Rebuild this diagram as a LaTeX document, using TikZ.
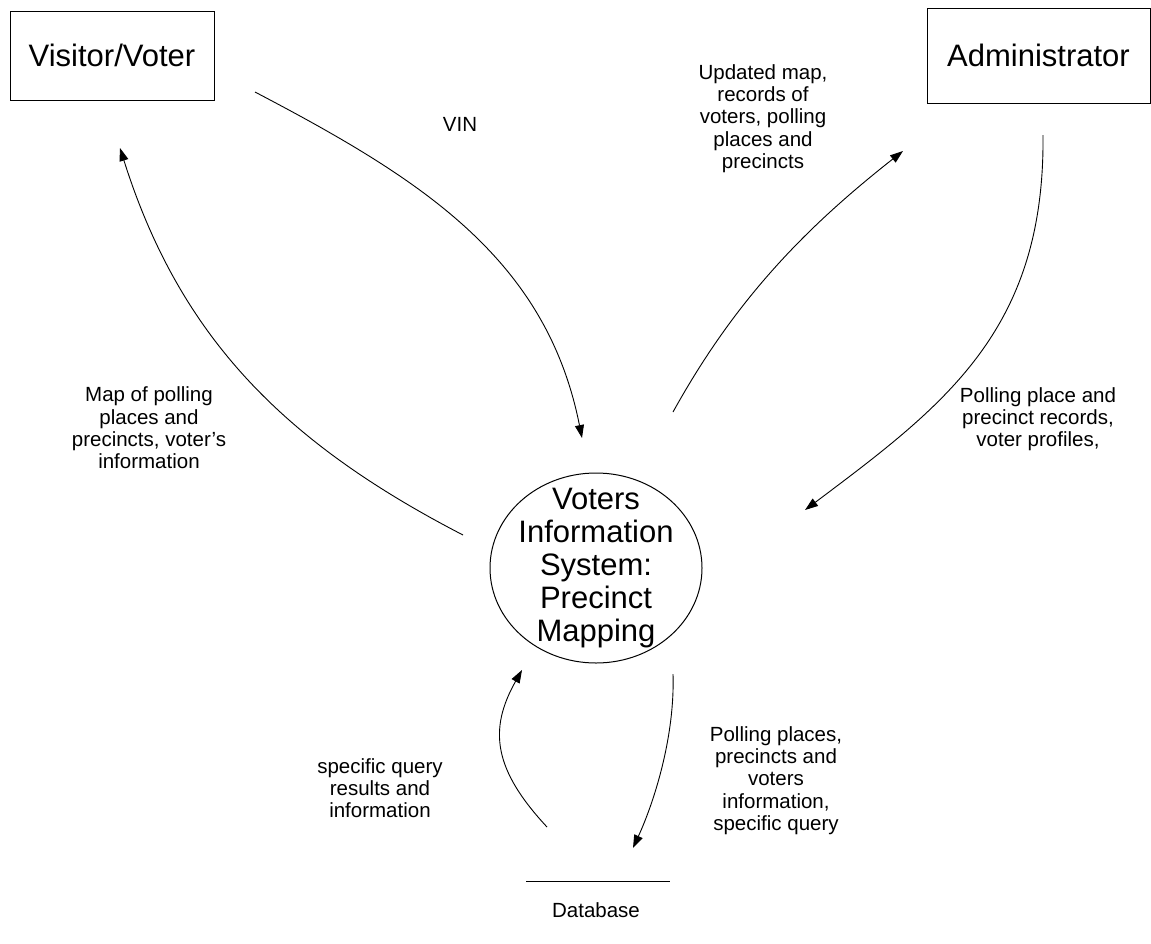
\documentclass[tikz,border=0pt]{standalone}
\usepackage{fontspec}
\setmainfont{Liberation Sans}
\usetikzlibrary{arrows.meta,shapes.geometric}

\tikzset{
  entity/.style={draw, line width=1pt, inner sep=0pt, font=\fontsize{31}{33}\selectfont},
  flow/.style={-{Triangle[length=13pt,width=9pt]}, line width=0.9pt},
  flowlabel/.style={align=center, inner sep=0pt, font=\fontsize{20.5}{22.3}\selectfont},
}

\begin{document}
\begin{tikzpicture}[x=1pt, y=-1pt]
    \useasboundingbox (0,0) rectangle (1151,943);

    % External entities
    \node[entity, minimum width=204, minimum height=89] (visitor) at (112,55.5) {Visitor/Voter};
    \node[entity, minimum width=223, minimum height=95] (admin) at (1038.5,55.5) {Administrator};

    % Process
    \node[draw, ellipse, line width=1pt, minimum width=212, minimum height=190, inner sep=0pt] (proc) at (596,568) {};
    \node[align=center, inner sep=0pt, font=\fontsize{31}{33}\selectfont] (proctext) at (proc.center) {Voters\\Information\\System:\\Precinct\\Mapping};

    % Data store
    \coordinate (dbl) at (526,881);
    \coordinate (dbr) at (670,881);
    \draw[line width=1pt] (dbl) -- (dbr);
    \node[flowlabel] (db) at (596,910) {Database};

    % Flow end points
    \coordinate (vinS) at (255,92);
    \coordinate (vinE) at (582,438);
    \coordinate (mapS) at (463,535);
    \coordinate (mapE) at (120,148);
    \coordinate (updS) at (673,412);
    \coordinate (updE) at (903,151);
    \coordinate (recS) at (1043,135);
    \coordinate (recE) at (805,510);
    \coordinate (resS) at (547,827);
    \coordinate (resE) at (522,670);
    \coordinate (qryS) at (673,674);
    \coordinate (qryE) at (633,848);

    % Visitor flows
    \draw[flow] (vinS) .. controls (419,178) and (546,257) .. (vinE);
    \node[flowlabel] (vin) at (460,124.5) {VIN};
    \draw[flow] (mapS) .. controls (285,443) and (180,338) .. (mapE);
    \node[flowlabel] (maplbl) at (149,428) {Map of polling\\places and\\precincts, voter's\\information};

    % Administrator flows
    \draw[flow] (updS) .. controls (735,300) and (805,228) .. (updE);
    \node[flowlabel] (updlbl) at (763,118.5) {Updated map,\\records of\\voters, polling\\places and\\precincts};
    \draw[flow] (recS) .. controls (1045,330) and (945,405) .. (recE);
    \node[flowlabel] (reclbl) at (1038,419) {Polling place and\\precinct records,\\voter profiles,};

    % Database flows
    \draw[flow] (resS) .. controls (494,770) and (488,730) .. (resE);
    \node[flowlabel] (reslbl) at (380,788) {specific query\\results and\\information};
    \draw[flow] (qryS) .. controls (675,735) and (655,800) .. (qryE);
    \node[flowlabel] (qrylbl) at (776,780.5) {Polling places,\\precincts and\\voters\\information,\\specific query};
\end{tikzpicture}
\end{document}
